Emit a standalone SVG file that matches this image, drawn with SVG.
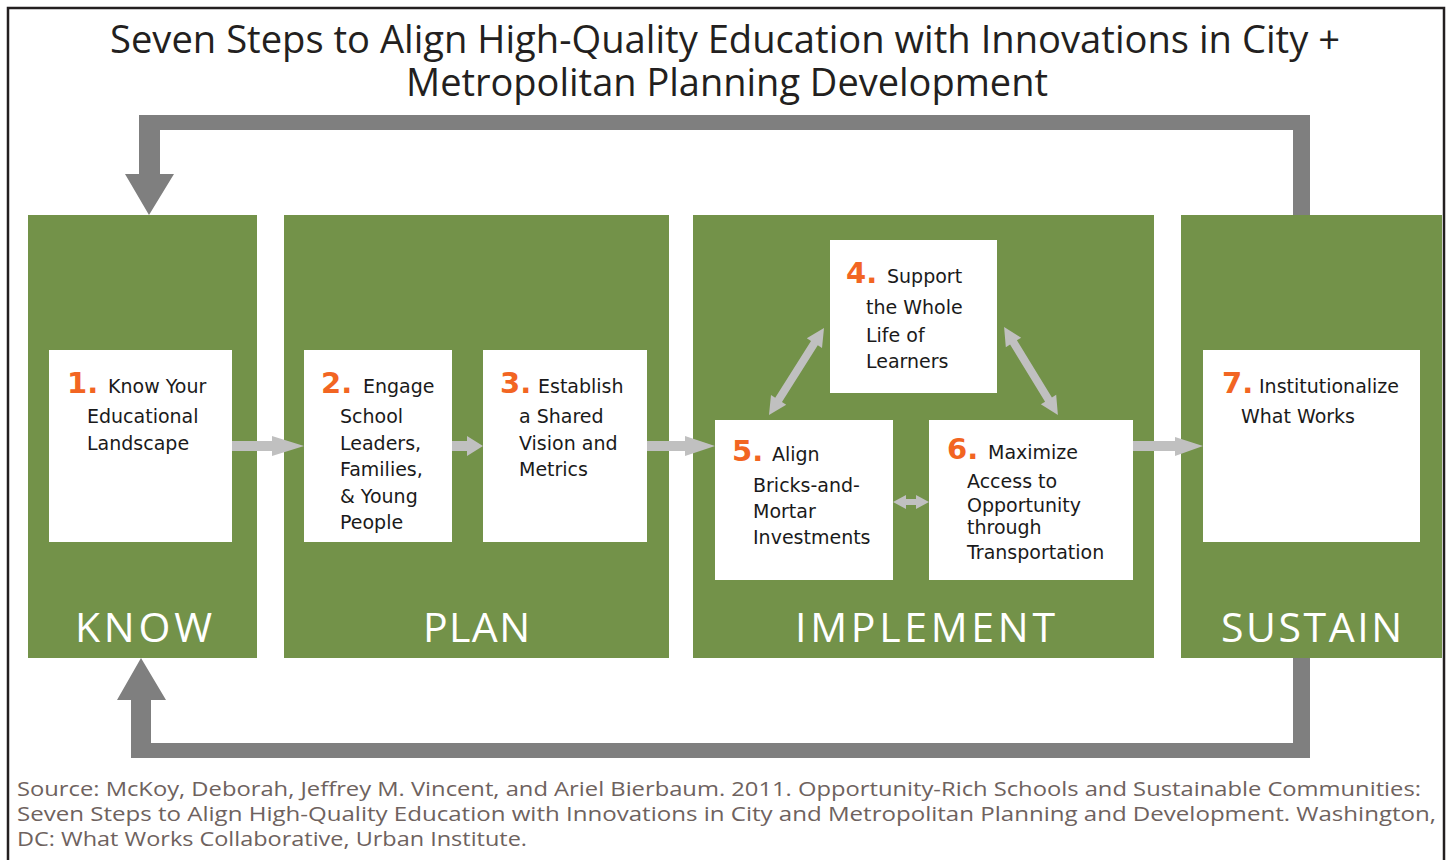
<svg xmlns="http://www.w3.org/2000/svg" width="1448" height="860" viewBox="0 0 1448 860">
<style>
.panel{fill:#739249}
.box{fill:#ffffff}
.title{font-family:"Open Sans","Liberation Sans",sans-serif;font-size:38px;fill:#231f20}
.src{font-family:"Open Sans","Liberation Sans",sans-serif;font-size:20.5px;fill:#6e625e}
.lbl{font-family:"Open Sans","Liberation Sans",sans-serif;font-size:41px;fill:#ffffff}
.num{font-family:"DejaVu Sans","Liberation Sans",sans-serif;font-size:29px;font-weight:bold;fill:#f26522}
.t{font-family:"DejaVu Sans","Liberation Sans",sans-serif;font-size:19px;fill:#1a1a1a}
.la{fill:#c0c0c0}
.da{fill:#7f7f7f}
</style>
<rect x="0" y="0" width="1448" height="860" fill="#ffffff"/>
<rect x="8" y="8" width="1436" height="870" fill="none" stroke="#231f20" stroke-width="2.5"/>
<g id="title">
<text class="title" x="110" y="53" textLength="1230" lengthAdjust="spacingAndGlyphs">Seven Steps to Align High-Quality Education with Innovations in City +</text>
<text class="title" x="406" y="96" textLength="642" lengthAdjust="spacingAndGlyphs">Metropolitan Planning Development</text>
</g>
<g id="know">
<rect class="panel" x="28" y="215" width="229" height="443"/>
<text class="lbl" x="75" y="642" textLength="137" lengthAdjust="spacing">KNOW</text>
</g>
<g id="plan">
<rect class="panel" x="284" y="215" width="385" height="443"/>
<text class="lbl" x="423" y="642" textLength="107" lengthAdjust="spacing">PLAN</text>
</g>
<g id="implement">
<rect class="panel" x="693" y="215" width="461" height="443"/>
<text class="lbl" x="795" y="642" textLength="260" lengthAdjust="spacing">IMPLEMENT</text>
</g>
<g id="sustain">
<rect class="panel" x="1181" y="215" width="261" height="443"/>
<text class="lbl" x="1221" y="642" textLength="181" lengthAdjust="spacing">SUSTAIN</text>
</g>
<g id="step1">
<rect class="box" x="49" y="350" width="183" height="192"/>
<text class="num" x="67" y="393">1.</text>
<text class="t" x="108" y="393">Know Your</text>
<text class="t" x="87" y="423">Educational</text>
<text class="t" x="87" y="450">Landscape</text>
</g>
<g id="step2">
<rect class="box" x="304" y="350" width="148" height="192"/>
<text class="num" x="321" y="393">2.</text>
<text class="t" x="363" y="393">Engage</text>
<text class="t" x="340" y="423">School</text>
<text class="t" x="340" y="450">Leaders,</text>
<text class="t" x="340" y="476">Families,</text>
<text class="t" x="340" y="503">&amp; Young</text>
<text class="t" x="340" y="529">People</text>
</g>
<g id="step3">
<rect class="box" x="483" y="350" width="164" height="192"/>
<text class="num" x="500" y="393">3.</text>
<text class="t" x="538" y="393">Establish</text>
<text class="t" x="519" y="423">a Shared</text>
<text class="t" x="519" y="450">Vision and</text>
<text class="t" x="519" y="476">Metrics</text>
</g>
<g id="step4">
<rect class="box" x="830" y="240" width="167" height="153"/>
<text class="num" x="846" y="283">4.</text>
<text class="t" x="887" y="283">Support</text>
<text class="t" x="866" y="314">the Whole</text>
<text class="t" x="866" y="342">Life of</text>
<text class="t" x="866" y="368">Learners</text>
</g>
<g id="step5">
<rect class="box" x="715" y="420" width="178" height="160"/>
<text class="num" x="732" y="461">5.</text>
<text class="t" x="772" y="461">Align</text>
<text class="t" x="753" y="492">Bricks-and-</text>
<text class="t" x="753" y="518">Mortar</text>
<text class="t" x="753" y="544">Investments</text>
</g>
<g id="step6">
<rect class="box" x="929" y="420" width="204" height="160"/>
<text class="num" x="947" y="459">6.</text>
<text class="t" x="988" y="459">Maximize</text>
<text class="t" x="967" y="488">Access to</text>
<text class="t" x="967" y="512">Opportunity</text>
<text class="t" x="967" y="534">through</text>
<text class="t" x="967" y="559">Transportation</text>
</g>
<g id="step7">
<rect class="box" x="1203" y="350" width="217" height="192"/>
<text class="num" x="1222" y="393">7.</text>
<text class="t" x="1259" y="393">Institutionalize</text>
<text class="t" x="1241" y="423">What Works</text>
</g>
<g id="connectors">
<polygon class="la" points="232,441 272,441 272,436 304,446 272,456 272,451 232,451"/>
<polygon class="la" points="452,441 467,441 467,436 483,446 467,456 467,451 452,451"/>
<polygon class="la" points="647,441 685,441 685,436 715,446 685,456 685,451 647,451"/>
<polygon class="la" points="1133,441 1175,441 1175,437 1203,446 1175,456 1175,451 1133,451"/>
<polygon class="la" points="893,502 906,495 906,499 916,499 916,495 929,502 916,509 916,505 906,505 906,509"/>
<polygon class="la" transform="translate(796.5,371.5) rotate(-57.7)" points="-51.5,0 -33.5,-9 -33.5,-4 33.5,-4 33.5,-9 51.5,0 33.5,9 33.5,4 -33.5,4 -33.5,9"/>
<polygon class="la" transform="translate(1031,371) rotate(58.5)" points="-51.5,0 -33.5,-9 -33.5,-4 33.5,-4 33.5,-9 51.5,0 33.5,9 33.5,4 -33.5,4 -33.5,9"/>
<polygon class="da" points="1293,215 1293,130 160,130 160,174 174,174 149,215 125,174 139,174 139,115 1310,115 1310,215"/>
<polygon class="da" points="1293,658 1293,743 151,743 151,700 166,700 141,658 117,700 131,700 131,758 1310,758 1310,658"/>
</g>
<g id="source">
<text class="src" x="17" y="796" textLength="1404" lengthAdjust="spacingAndGlyphs">Source: McKoy, Deborah, Jeffrey M. Vincent, and Ariel Bierbaum. 2011. Opportunity-Rich Schools and Sustainable Communities:</text>
<text class="src" x="17" y="821" textLength="1419" lengthAdjust="spacingAndGlyphs">Seven Steps to Align High-Quality Education with Innovations in City and Metropolitan Planning and Development. Washington,</text>
<text class="src" x="17" y="846" textLength="510" lengthAdjust="spacingAndGlyphs">DC: What Works Collaborative, Urban Institute.</text>
</g>
</svg>
